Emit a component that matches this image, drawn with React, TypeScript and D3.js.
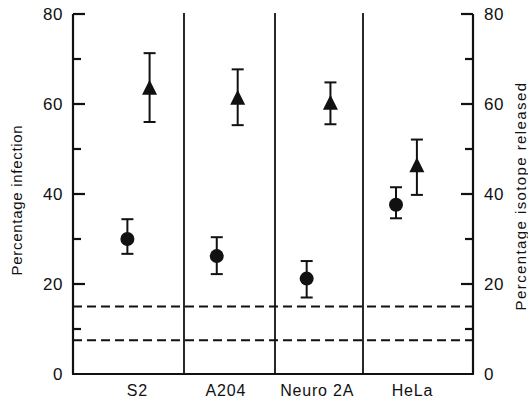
import * as d3 from "d3";

const categories = ["S2", "A204", "Neuro 2A", "HeLa"];
// percentage infection (circles), with error bar ends
const infection = [30, 26.2, 21.2, 37.6];
const infectionLow = [26.7, 22.2, 17, 34.6];
const infectionHigh = [34.4, 30.4, 25.1, 41.5];
// percentage isotope released (triangles)
const isotope = [63.6, 61.4, 60.3, 46.4];
const isotopeLow = [56, 55.3, 55.5, 39.8];
const isotopeHigh = [71.3, 67.7, 64.8, 52.1];
// dashed background levels
const baseLevels = [15, 7.5];
const majorTicks = [0, 20, 40, 60, 80];
const minorTicks = [10, 30, 50, 70];

const W = 528;
const H = 403;
const left = 73;
const right = 473;
const top = 14;
const bottom = 374;

// column boundaries are not even in the figure
const x = d3.scaleLinear().domain([0, 1, 2, 3, 4]).range([left, 184, 275, 363, right]);
const y = d3.scaleLinear().domain([0, 80]).range([bottom, top]);

// where, inside each column, things sit
const circlePos = [0.49, 0.36, 0.36, 0.3];
const trianglePos = [0.69, 0.59, 0.63, 0.49];
const labelPos = [0.58, 0.46, 0.48, 0.45];

const font = "'Liberation Sans', Arial, sans-serif";
const ink = "#111";
const triangle = "M0,-8L7.5,7L-7.5,7Z";

const ErrorBar = ({ cx, lo, hi }: { cx: number; lo: number; hi: number }) => (
  <g stroke={ink} strokeWidth={2}>
    <line x1={cx} x2={cx} y1={y(lo)} y2={y(hi)} />
    <line x1={cx - 6} x2={cx + 6} y1={y(lo)} y2={y(lo)} />
    <line x1={cx - 6} x2={cx + 6} y1={y(hi)} y2={y(hi)} />
  </g>
);

export default function App() {
  return (
    <>
      <style>{`body{margin:0}`}</style>
      <svg width={W} height={H} style={{ display: "block", background: "#fff" }} fontFamily={font}>
        {/* dashed background lines */}
        {baseLevels.map((v) => (
          <line key={v} x1={left} x2={right} y1={y(v)} y2={y(v)} stroke={ink} strokeWidth={1.8} strokeDasharray="9,5" />
        ))}

        {/* column separators */}
        {[1, 2, 3].map((i) => (
          <line key={i} x1={x(i)} x2={x(i)} y1={top - 1} y2={bottom} stroke={ink} strokeWidth={1.8} />
        ))}

        {/* axes */}
        <g stroke={ink} strokeWidth={2.2} fill="none">
          <line x1={left} x2={left} y1={top} y2={bottom} />
          <line x1={right} x2={right} y1={top} y2={bottom} />
          <line x1={left - 1} x2={right + 1} y1={bottom} y2={bottom} />
          {majorTicks.filter((t) => t > 0).map((t) => (
            <g key={t}>
              <line x1={left} x2={left + 12} y1={y(t)} y2={y(t)} />
              <line x1={right} x2={right - 12} y1={y(t)} y2={y(t)} />
            </g>
          ))}
          {minorTicks.map((t) => (
            <g key={t}>
              <line x1={left} x2={left + 8} y1={y(t)} y2={y(t)} />
              <line x1={right} x2={right - 8} y1={y(t)} y2={y(t)} />
            </g>
          ))}
        </g>

        {/* tick labels */}
        <g fontSize={17} fill={ink}>
          {majorTicks.map((t) => (
            <g key={t}>
              <text x={63} y={y(t)} dy="0.36em" textAnchor="end" letterSpacing={0.5}>{t}</text>
              <text x={484} y={y(t)} dy="0.36em" textAnchor="start" letterSpacing={0.5}>{t}</text>
            </g>
          ))}
        </g>

        {/* category labels */}
        <g fontSize={16} fill={ink} textAnchor="middle">
          {categories.map((c, i) => (
            <text key={c} x={x(i + labelPos[i])} y={396} letterSpacing={0.8}>{c}</text>
          ))}
        </g>

        {/* axis titles */}
        <text transform="translate(22,200) rotate(-90)" textAnchor="middle" fontSize={15} fill={ink} letterSpacing={0.7}>
          Percentage infection
        </text>
        <text transform="translate(526,196) rotate(-90)" textAnchor="middle" fontSize={15} fill={ink} letterSpacing={1.4}>
          Percentage isotope released
        </text>

        {/* circles: infection */}
        {categories.map((c, i) => {
          const cx = x(i + circlePos[i]);
          return (
            <g key={"c" + c}>
              <ErrorBar cx={cx} lo={infectionLow[i]} hi={infectionHigh[i]} />
              <circle cx={cx} cy={y(infection[i])} r={7} fill={ink} />
            </g>
          );
        })}

        {/* triangles: isotope released */}
        {categories.map((c, i) => {
          const cx = x(i + trianglePos[i]);
          return (
            <g key={"t" + c}>
              <ErrorBar cx={cx} lo={isotopeLow[i]} hi={isotopeHigh[i]} />
              <path d={triangle} transform={`translate(${cx},${y(isotope[i])})`} fill={ink} />
            </g>
          );
        })}
      </svg>
    </>
  );
}
